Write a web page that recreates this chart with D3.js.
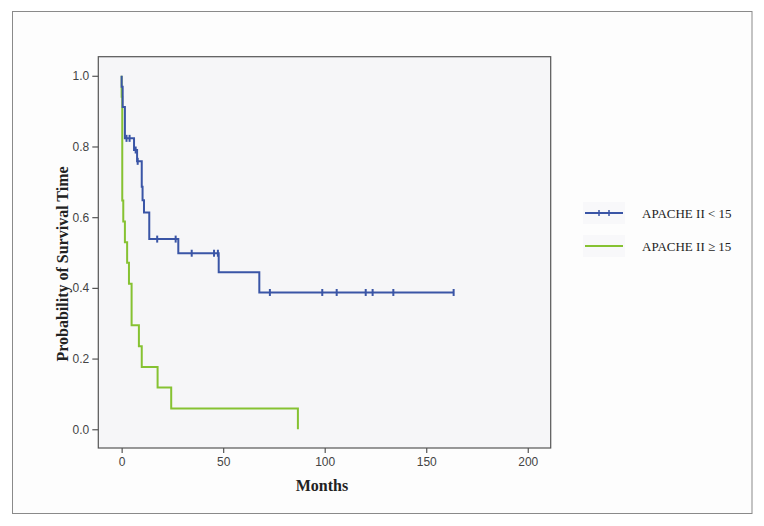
<!DOCTYPE html>
<html>
<head>
<meta charset="utf-8">
<script src="https://cdn.jsdelivr.net/npm/d3@7"></script>
<style>
  html, body { margin: 0; padding: 0; background: #ffffff; }
  svg { display: block; }
</style>
</head>
<body>
<svg id="chart" width="764" height="526"></svg>
<script>
// ---- Data ----
const seriesNames = ["APACHE II < 15", "APACHE II \u2265 15"];

// Group 1: APACHE II < 15 (event times in months, survival after each event)
const lowEventTimes = [0, 0.5, 1.6, 6.1, 7.6, 9.9, 10.3, 11.0, 13.6, 27.9, 47.8, 67.8];
const lowSurvival   = [0.969, 0.912, 0.823, 0.790, 0.758, 0.686, 0.648, 0.613, 0.538, 0.498, 0.444, 0.387];
const lowCensored   = [2.4, 3.9, 6.9, 7.9, 17.5, 26.6, 34.5, 45.5, 47.4, 73.0, 98.8, 105.9, 120.2, 123.6, 133.8, 163.5];
const lowEndTime    = 163.5;

// Group 2: APACHE II >= 15
const highEventTimes = [0, 0.3, 0.8, 1.6, 2.7, 3.6, 4.9, 8.5, 9.9, 17.7, 24.4, 86.8];
const highSurvival   = [0.941, 0.647, 0.588, 0.529, 0.471, 0.412, 0.294, 0.235, 0.176, 0.118, 0.059, 0.0];
const highCensored   = [];
const highEndTime    = 86.8;

const xTicks = [0, 50, 100, 150, 200];
const yTicks = [0.0, 0.2, 0.4, 0.6, 0.8, 1.0];

// ---- Layout ----
const svg = d3.select("#chart");
const plotL = 98.3, plotR = 550.7, plotT = 56.7, plotB = 448;
const x = d3.scaleLinear().domain([-11.5, 211.3]).range([plotL, plotR]);
const y = d3.scaleLinear().domain([-0.053, 1.054]).range([plotB, plotT]);

const colors = ["#3a55a6", "#86c232"];

// outer frame
svg.append("rect").attr("x", 12.5).attr("y", 11.5).attr("width", 739.5).attr("height", 502)
  .attr("fill", "#fdfdfd").attr("stroke", "#8a8a8a").attr("stroke-width", 1);

// plot background
svg.append("rect").attr("x", plotL).attr("y", plotT).attr("width", plotR - plotL).attr("height", plotB - plotT)
  .attr("fill", "#f6f6f8");

// build step data
function steps(times, surv, endTime) {
  const pts = [[0, 1]];
  times.forEach((t, i) => pts.push([t, surv[i]]));
  const last = pts[pts.length - 1];
  if (endTime > last[0]) pts.push([endTime, last[1]]);
  return pts;
}
function survAt(times, surv, t) {
  let s = 1;
  times.forEach((tt, i) => { if (tt <= t) s = surv[i]; });
  return s;
}

const line = d3.line().x(d => x(d[0])).y(d => y(d[1])).curve(d3.curveStepAfter);

const groups = [
  { times: highEventTimes, surv: highSurvival, cens: highCensored, end: highEndTime, color: colors[1] },
  { times: lowEventTimes, surv: lowSurvival, cens: lowCensored, end: lowEndTime, color: colors[0] }
];

groups.forEach(g => {
  svg.append("path").datum(steps(g.times, g.surv, g.end))
    .attr("d", line).attr("fill", "none").attr("stroke", g.color)
    .attr("stroke-width", 2).attr("stroke-linejoin", "miter");
  svg.selectAll(null).data(g.cens).enter().append("line")
    .attr("x1", d => x(d)).attr("x2", d => x(d))
    .attr("y1", d => y(survAt(g.times, g.surv, d)) - 3.5)
    .attr("y2", d => y(survAt(g.times, g.surv, d)) + 3.5)
    .attr("stroke", g.color).attr("stroke-width", 2);
});

// plot border
svg.append("rect").attr("x", plotL).attr("y", plotT).attr("width", plotR - plotL).attr("height", plotB - plotT)
  .attr("fill", "none").attr("stroke", "#555555").attr("stroke-width", 1.2);

// axes
const xAxis = d3.axisBottom(x).tickValues(xTicks).tickFormat(d3.format("d")).tickSize(5).tickPadding(4);
const yAxis = d3.axisLeft(y).tickValues(yTicks).tickFormat(d3.format(".1f")).tickSize(6).tickPadding(3);

const gx = svg.append("g").attr("transform", `translate(0,${plotB})`).call(xAxis);
const gy = svg.append("g").attr("transform", `translate(${plotL},0)`).call(yAxis);
[gx, gy].forEach(g => {
  g.select(".domain").remove();
  g.selectAll(".tick line").attr("stroke", "#555").attr("stroke-width", 1.2);
  g.selectAll(".tick text").attr("fill", "#444").style("font-family", "'Liberation Sans', Arial, sans-serif").style("font-size", "12px");
});

// axis titles
svg.append("text").attr("x", 322).attr("y", 491).attr("text-anchor", "middle")
  .style("font-family", "'Liberation Serif', 'Times New Roman', serif").style("font-weight", "bold").style("font-size", "16px")
  .attr("fill", "#222").text("Months");
svg.append("text").attr("transform", "translate(68,264) rotate(-90)").attr("text-anchor", "middle")
  .style("font-family", "'Liberation Serif', 'Times New Roman', serif").style("font-weight", "bold").style("font-size", "16px")
  .attr("fill", "#222").text("Probability of Survival Time");

// legend
const legY = [213, 246];
const legendItems = [
  { name: seriesNames[0], color: colors[0], ticks: true },
  { name: seriesNames[1], color: colors[1], ticks: false }
];
legendItems.forEach((it, i) => {
  const cy = legY[i];
  svg.append("rect").attr("x", 583).attr("y", cy - 11).attr("width", 42).attr("height", 22).attr("fill", "#f8f8fa");
  svg.append("line").attr("x1", 585).attr("x2", 623).attr("y1", cy).attr("y2", cy)
    .attr("stroke", it.color).attr("stroke-width", 2);
  if (it.ticks) {
    [599, 609].forEach(tx => svg.append("line").attr("x1", tx).attr("x2", tx).attr("y1", cy - 3).attr("y2", cy + 3)
      .attr("stroke", it.color).attr("stroke-width", 1.5));
  }
  svg.append("text").attr("x", 642).attr("y", cy + 4.5)
    .style("font-family", "'Liberation Serif', 'Times New Roman', serif").style("font-size", "13px")
    .attr("fill", "#222").text(it.name);
});
</script>
</body>
</html>
